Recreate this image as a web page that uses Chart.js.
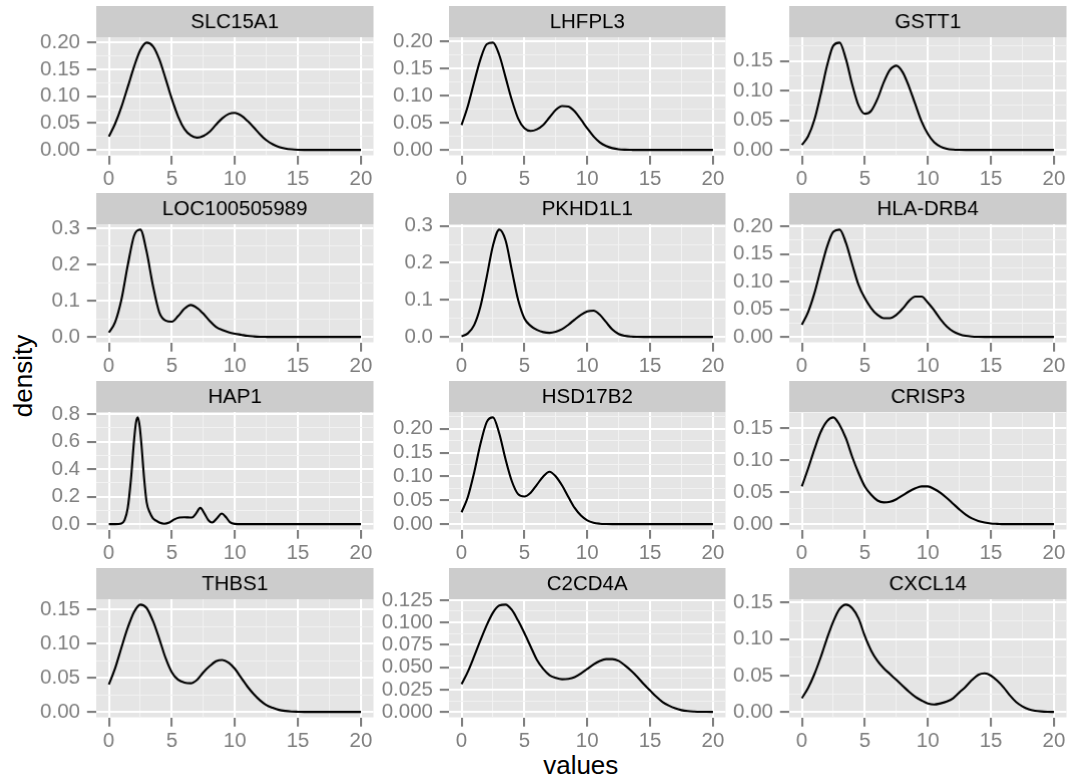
<!DOCTYPE html>
<html>
<head>
<meta charset="utf-8">
<title>density by gene</title>
<script src="https://cdn.jsdelivr.net/npm/chart.js@4.4.1/dist/chart.umd.min.js"></script>
<style>
  html, body { margin: 0; padding: 0; background: #fff; }
  body { width: 1072px; height: 782px; overflow: hidden; position: relative;
         font-family: "Liberation Sans", Arial, sans-serif; }
  .panel { position: absolute; }
  .axis-title { position: absolute; color: #000; font-size: 26px; white-space: nowrap; line-height: 1; }
</style>
</head>
<body>
<div class="axis-title" id="ytitle">density</div>
<div class="axis-title" id="xtitle">values</div>
<script>
const xGrid = [0, 0.5, 1, 1.5, 2, 2.5, 3, 3.5, 4, 4.5, 5, 5.5, 6, 6.5, 7, 7.5, 8, 8.5, 9, 9.5,
  10, 10.5, 11, 11.5, 12, 12.5, 13, 13.5, 14, 14.5, 15, 15.5, 16, 16.5, 17, 17.5, 18, 18.5, 19, 19.5, 20];
// HAP1 has a very narrow peak, so it gets its own x positions
const hap1X = [0, 0.5, 1, 1.25, 1.5, 1.75, 2, 2.15, 2.3, 2.45, 2.6, 2.8, 3, 3.25, 3.5, 3.75, 4, 4.4, 4.8, 5.2,
  5.6, 6, 6.3, 6.6, 6.9, 7.25, 7.6, 7.9, 8.2, 8.6, 8.95, 9.3, 9.6, 10, 10.5, 12, 14, 16, 18, 20];

const slc15a1 = [0.025, 0.049, 0.080, 0.117, 0.155, 0.186, 0.200, 0.193, 0.169, 0.133, 0.095, 0.062, 0.039, 0.027,
  0.023, 0.026, 0.034, 0.047, 0.059, 0.067, 0.069, 0.064, 0.054, 0.042, 0.029, 0.018, 0.0106, 0.0055, 0.0026, 0.0011,
  0.0004, 0.0001, 0, 0, 0, 0, 0, 0, 0, 0, 0];
const lhfpl3 = [0.046, 0.081, 0.125, 0.167, 0.195, 0.198, 0.175, 0.134, 0.092, 0.058, 0.040, 0.035, 0.038, 0.046,
  0.060, 0.074, 0.081, 0.080, 0.071, 0.056, 0.040, 0.025, 0.014, 0.0073, 0.0033, 0.0013, 0.0005, 0.0002,
  0, 0, 0, 0, 0, 0, 0, 0, 0, 0, 0, 0, 0];
const gstt1 = [0.0085, 0.023, 0.051, 0.094, 0.142, 0.176, 0.181, 0.153, 0.110, 0.075, 0.061, 0.066, 0.086, 0.114,
  0.135, 0.142, 0.131, 0.107, 0.077, 0.048, 0.027, 0.013, 0.0056, 0.0021, 0.0007, 0.0002,
  0, 0, 0, 0, 0, 0, 0, 0, 0, 0, 0, 0, 0, 0, 0];
const loc100505989 = [0.012, 0.041, 0.103, 0.197, 0.279, 0.296, 0.235, 0.141, 0.068, 0.045, 0.042, 0.058, 0.078,
  0.088, 0.080, 0.064, 0.044, 0.028, 0.019, 0.013, 0.009, 0.006, 0.003, 0.0015, 0.0006, 0.0002,
  0, 0, 0, 0, 0, 0, 0, 0, 0, 0, 0, 0, 0, 0, 0];
const pkhd1l1 = [0.002, 0.0095, 0.032, 0.082, 0.162, 0.247, 0.290, 0.261, 0.180, 0.100, 0.050, 0.030, 0.019, 0.013,
  0.011, 0.014, 0.021, 0.033, 0.047, 0.060, 0.069, 0.071, 0.060, 0.040, 0.020, 0.008, 0.003, 0.001, 0.0003,
  0, 0, 0, 0, 0, 0, 0, 0, 0, 0, 0, 0];
const hlaDrb4 = [0.022, 0.045, 0.079, 0.122, 0.163, 0.190, 0.194, 0.170, 0.131, 0.094, 0.070, 0.052, 0.040, 0.034,
  0.034, 0.040, 0.051, 0.065, 0.073, 0.073, 0.062, 0.048, 0.032, 0.019, 0.010, 0.005, 0.002, 0.0007, 0.0002,
  0, 0, 0, 0, 0, 0, 0, 0, 0, 0, 0, 0];
const hap1 = [0, 0, 0.005, 0.029, 0.116, 0.323, 0.608, 0.736, 0.776, 0.709, 0.564, 0.333, 0.160, 0.085, 0.042,
  0.025, 0.012, 0.003, 0.012, 0.035, 0.048, 0.050, 0.049, 0.048, 0.075, 0.118, 0.075, 0.028, 0.012, 0.045,
  0.077, 0.050, 0.015, 0.002, 0, 0, 0, 0, 0, 0];
const hsd17b2 = [0.025, 0.057, 0.108, 0.168, 0.214, 0.224, 0.190, 0.136, 0.090, 0.063, 0.058, 0.066, 0.083, 0.100,
  0.110, 0.100, 0.081, 0.057, 0.034, 0.018, 0.008, 0.003, 0.001, 0.0003,
  0, 0, 0, 0, 0, 0, 0, 0, 0, 0, 0, 0, 0, 0, 0, 0, 0];
const crisp3 = [0.059, 0.087, 0.117, 0.144, 0.161, 0.167, 0.155, 0.134, 0.105, 0.080, 0.059, 0.046, 0.037, 0.034,
  0.035, 0.039, 0.045, 0.051, 0.056, 0.059, 0.059, 0.055, 0.049, 0.041, 0.032, 0.023, 0.015, 0.009, 0.005, 0.0025,
  0.001, 0.0005, 0, 0, 0, 0, 0, 0, 0, 0, 0];
const thbs1 = [0.040, 0.064, 0.094, 0.123, 0.146, 0.157, 0.152, 0.133, 0.107, 0.079, 0.058, 0.047, 0.043, 0.042,
  0.047, 0.058, 0.067, 0.074, 0.076, 0.072, 0.063, 0.050, 0.037, 0.026, 0.017, 0.010, 0.006, 0.003, 0.0015, 0.0007,
  0.0003, 0, 0, 0, 0, 0, 0, 0, 0, 0, 0];
const c2cd4a = [0.031, 0.045, 0.062, 0.080, 0.097, 0.111, 0.119, 0.120, 0.114, 0.102, 0.088, 0.073, 0.058, 0.048,
  0.041, 0.038, 0.0365, 0.037, 0.039, 0.043, 0.048, 0.053, 0.057, 0.059, 0.059, 0.057, 0.052, 0.046, 0.039, 0.031,
  0.024, 0.017, 0.011, 0.007, 0.004, 0.002, 0.001, 0.0005, 0.0002, 0.0001, 0];
const cxcl14 = [0.019, 0.033, 0.052, 0.075, 0.101, 0.124, 0.141, 0.147, 0.142, 0.128, 0.104, 0.084, 0.070, 0.060,
  0.052, 0.044, 0.036, 0.028, 0.021, 0.016, 0.012, 0.0105, 0.012, 0.0145, 0.019, 0.027, 0.035, 0.044, 0.051, 0.053,
  0.050, 0.043, 0.034, 0.023, 0.014, 0.008, 0.004, 0.002, 0.001, 0.0005, 0.0003];

const geneNames = ["SLC15A1", "LHFPL3", "GSTT1", "LOC100505989", "PKHD1L1", "HLA-DRB4",
  "HAP1", "HSD17B2", "CRISP3", "THBS1", "C2CD4A", "CXCL14"];
const densities = [slc15a1, lhfpl3, gstt1, loc100505989, pkhd1l1, hlaDrb4,
  hap1, hsd17b2, crisp3, thbs1, c2cd4a, cxcl14];
const xValues = [xGrid, xGrid, xGrid, xGrid, xGrid, xGrid, hap1X, xGrid, xGrid, xGrid, xGrid, xGrid];
const yStep = [0.05, 0.05, 0.05, 0.1, 0.1, 0.05, 0.2, 0.05, 0.05, 0.05, 0.025, 0.05];
const yDigits = [2, 2, 2, 1, 1, 2, 1, 2, 2, 2, 3, 2];
const xStep = 5;

// layout, in page pixels
const COL_LEFT = [96, 448.5, 789.4];
const ROW_TOP = [6, 193.3, 380.7, 568];
const PANEL_W = 276.5, PANEL_H = 117.5, STRIP_H = 31;
const Y_AXIS_W = 80, X_AXIS_H = 40, PAD_R = 6;
const FONT = "Liberation Sans";
const FONT_SIZE = 20.5;

const xt = document.getElementById("xtitle");
xt.style.left = "580.75px";
xt.style.top = "765px";
xt.style.transform = "translate(-50%, -50%)";
const yt = document.getElementById("ytitle");
yt.style.left = "23px";
yt.style.top = "376px";
yt.style.transform = "translate(-50%, -50%) rotate(-90deg)";

const isMajor = (v, step) => Math.abs(v / step - Math.round(v / step)) < 1e-6;

// major + minor grid positions (minor halfway, like ggplot)
function gridTicks(lo, hi, step) {
  const half = step / 2;
  const out = [];
  for (let k = Math.ceil(lo / half - 1e-9); k * half <= hi + 1e-9; k++) {
    out.push({ value: +(k * half).toFixed(6) });
  }
  return out;
}

const stripPlugin = {
  id: "strip",
  beforeDraw(chart, args, opts) {
    const { ctx, chartArea: a } = chart;
    ctx.save();
    ctx.fillStyle = "#E5E5E5";
    ctx.fillRect(a.left, a.top, a.right - a.left, a.bottom - a.top);
    ctx.fillStyle = "#CCCCCC";
    ctx.fillRect(a.left, a.top - STRIP_H, a.right - a.left, STRIP_H);
    ctx.fillStyle = "#000";
    ctx.font = `${FONT_SIZE}px "${FONT}"`;
    ctx.textAlign = "center";
    ctx.textBaseline = "middle";
    ctx.fillText(opts.text, (a.left + a.right) / 2, a.top - STRIP_H / 2 + 1);
    ctx.restore();
  }
};

function gridOpts(step) {
  return {
    color: (c) => (c.tick && isMajor(c.tick.value, step) ? "#FFFFFF" : "#F2F2F2"),
    lineWidth: (c) => (c.tick && isMajor(c.tick.value, step) ? 2.1 : 1.05),
    tickColor: (c) => (c.tick && isMajor(c.tick.value, step) ? "#7F7F7F" : "rgba(0,0,0,0)"),
    tickWidth: 2.1,
    tickLength: 9.2,
    drawTicks: true
  };
}

geneNames.forEach((name, i) => {
  const col = i % 3, row = Math.floor(i / 3);
  const ys = densities[i], xs = xValues[i];
  const top = Math.max(...ys), bottom = Math.min(...ys);
  const lo = bottom - (top - bottom) * 0.05, hi = top + (top - bottom) * 0.05;
  const step = yStep[i], digits = yDigits[i];

  const box = document.createElement("div");
  box.className = "panel";
  box.style.left = (COL_LEFT[col] - Y_AXIS_W) + "px";
  box.style.top = ROW_TOP[row] + "px";
  box.style.width = (Y_AXIS_W + PANEL_W + PAD_R) + "px";
  box.style.height = (STRIP_H + PANEL_H + X_AXIS_H) + "px";
  const canvas = document.createElement("canvas");
  box.appendChild(canvas);
  document.body.appendChild(box);

  new Chart(canvas, {
    type: "line",
    data: {
      datasets: [{
        data: xs.map((x, j) => ({ x: x, y: ys[j] })),
        borderColor: "#000",
        borderWidth: 2.1,
        pointRadius: 0,
        fill: false,
        cubicInterpolationMode: "monotone"
      }]
    },
    options: {
      responsive: true,
      maintainAspectRatio: false,
      animation: false,
      events: [],
      layout: { padding: { top: STRIP_H, right: PAD_R, left: 0, bottom: 0 } },
      plugins: {
        legend: { display: false },
        tooltip: { enabled: false },
        strip: { text: name }
      },
      scales: {
        x: {
          type: "linear",
          min: -1,
          max: 21,
          afterBuildTicks: (s) => { s.ticks = gridTicks(-1, 21, xStep); },
          afterFit: (s) => { s.height = X_AXIS_H; },
          grid: gridOpts(xStep),
          border: { display: false, width: 0 },
          ticks: {
            autoSkip: false,
            maxRotation: 0,
            padding: 2.3,
            color: "#7F7F7F",
            font: { family: FONT, size: FONT_SIZE },
            callback: (v) => (isMajor(v, xStep) ? String(v) : "")
          }
        },
        y: {
          type: "linear",
          min: lo,
          max: hi,
          afterBuildTicks: (s) => { s.ticks = gridTicks(lo, hi, step); },
          afterFit: (s) => { s.width = Y_AXIS_W; },
          grid: gridOpts(step),
          border: { display: false, width: 0 },
          ticks: {
            autoSkip: false,
            padding: 6.8,
            color: "#7F7F7F",
            font: { family: FONT, size: FONT_SIZE },
            callback: (v) => (isMajor(v, step) ? Math.abs(v).toFixed(digits) : "")
          }
        }
      }
    },
    plugins: [stripPlugin]
  });
});
</script>
</body>
</html>
